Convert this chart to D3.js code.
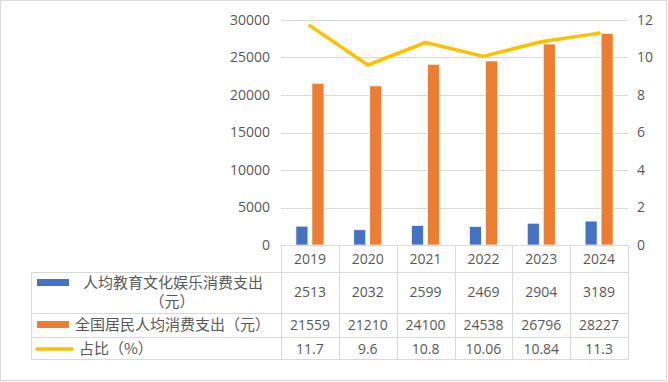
<!DOCTYPE html>
<html><head><meta charset="utf-8">
<script src="https://cdn.jsdelivr.net/npm/d3@7"></script>
<style>
html,body{margin:0;padding:0;background:#fff;}
svg{display:block;}
text{fill:#595959;}
</style></head>
<body>
<svg id="chart" width="668" height="382"></svg>
<script>
const years = ["2019","2020","2021","2022","2023","2024"];
const eduSpend = [2513, 2032, 2599, 2469, 2904, 3189];
const totalSpend = [21559, 21210, 24100, 24538, 26796, 28227];
const ratio = [11.7, 9.6, 10.8, 10.06, 10.84, 11.3];
const ratioLabels = ["11.7","9.6","10.8","10.06","10.84","11.3"];
const leftTicks = [0, 5000, 10000, 15000, 20000, 25000, 30000];
const rightTicks = [0, 2, 4, 6, 8, 10, 12];
const seriesNames = ["人均教育文化娱乐消费支出（元）", "全国居民人均消费支出（元）", "占比（%）"];
const seriesKeys = ["edu", "total"];
const colors = {edu: "#4472C4", total: "#ED7D31", ratio: "#FFC000"};

const svg = d3.select("#chart");
const numFont = "'Open Sans', 'Liberation Sans', sans-serif";
const cjkFont = "'Noto Sans CJK SC', sans-serif";
const gridColor = "#D9D9D9";

// outer border
svg.append("rect").attr("x", 0.5).attr("y", 0.5).attr("width", 666).attr("height", 380)
  .attr("fill", "#fff").attr("stroke", gridColor);

const plotL = 281, plotR = 628, plotT = 20, plotB = 245;
const x = d3.scaleBand().domain(years).range([plotL, plotR]).padding(0);
const yL = d3.scaleLinear().domain([0, 30000]).range([plotB, plotT]);
const yR = d3.scaleLinear().domain([0, 12]).range([plotB, plotT]);
const cw = x.bandwidth();
const x1 = d3.scaleBand().domain(seriesKeys).range([cw/2 - 14, cw/2 + 14]).paddingInner(0.25);

// gridlines
svg.append("g").selectAll("line").data(leftTicks.filter(d => d > 0)).join("line")
  .attr("x1", plotL).attr("x2", plotR)
  .attr("y1", d => Math.round(yL(d)) + 0.5).attr("y2", d => Math.round(yL(d)) + 0.5)
  .attr("stroke", gridColor).attr("stroke-width", 1);

// left axis
const gL = svg.append("g").attr("transform", `translate(${plotL - 11},0)`)
  .call(d3.axisLeft(yL).tickValues(leftTicks).tickFormat(d3.format("d")).tickSize(0).tickPadding(0));
gL.select(".domain").remove();
gL.selectAll("text").attr("font-family", numFont).attr("font-size", 14).attr("fill", "#595959");

// right axis
const gR = svg.append("g").attr("transform", `translate(${plotR + 9},0)`)
  .call(d3.axisRight(yR).tickValues(rightTicks).tickFormat(d3.format("d")).tickSize(0).tickPadding(0));
gR.select(".domain").remove();
gR.selectAll("text").attr("font-family", numFont).attr("font-size", 14).attr("fill", "#595959");

// bars
const barData = years.map((yr, i) => ({year: yr, values: [{key: "edu", v: eduSpend[i]}, {key: "total", v: totalSpend[i]}]}));
svg.append("g").selectAll("g").data(barData).join("g")
  .attr("transform", d => `translate(${x(d.year)},0)`)
  .selectAll("rect").data(d => d.values).join("rect")
  .attr("x", d => x1(d.key)).attr("width", x1.bandwidth())
  .attr("y", d => yL(d.v)).attr("height", d => yL(0) - yL(d.v))
  .attr("fill", d => colors[d.key]).attr("stroke", "#fff").attr("stroke-width", 0.7);

// line
const line = d3.line().x((d, i) => x(years[i]) + cw/2).y(d => yR(d));
svg.append("path").datum(ratio).attr("d", line).attr("fill", "none")
  .attr("stroke", colors.ratio).attr("stroke-width", 3.5)
  .attr("stroke-linejoin", "round").attr("stroke-linecap", "round");

// data table
const tableL = 31;
const rowY = [245, 271.5, 313, 337, 359];
const tg = svg.append("g").attr("stroke", gridColor).attr("stroke-width", 1).attr("fill", "none");
tg.append("line").attr("x1", plotL).attr("x2", plotR).attr("y1", rowY[0] + 0.5).attr("y2", rowY[0] + 0.5);
rowY.slice(1).forEach(yv => {
  tg.append("line").attr("x1", tableL).attr("x2", plotR).attr("y1", Math.round(yv) + 0.5).attr("y2", Math.round(yv) + 0.5);
});
tg.append("line").attr("x1", tableL + 0.5).attr("x2", tableL + 0.5).attr("y1", Math.round(rowY[1]) + 0.5).attr("y2", rowY[4] + 0.5);
years.forEach(yr => {
  const xv = Math.round(x(yr)) + 0.5;
  tg.append("line").attr("x1", xv).attr("x2", xv).attr("y1", rowY[0] + 0.5).attr("y2", rowY[4] + 0.5);
});
tg.append("line").attr("x1", plotR + 0.5).attr("x2", plotR + 0.5).attr("y1", rowY[0] + 0.5).attr("y2", rowY[4] + 0.5);

const rowCenters = [258.5, 292, 325, 348.5];
const tt = svg.append("g").attr("font-family", numFont).attr("font-size", 14).attr("text-anchor", "middle");
const rows = [years, eduSpend.map(String), totalSpend.map(String), ratioLabels];
rows.forEach((vals, r) => {
  tt.selectAll(null).data(vals).join("text")
    .attr("x", (d, i) => x(years[i]) + cw/2)
    .attr("y", rowCenters[r]).attr("dy", "0.36em")
    .attr("fill", "#595959")
    .text(d => d);
});

// legend column
const lg = svg.append("g").attr("font-family", cjkFont).attr("font-size", 15).attr("fill", "#595959");
lg.append("rect").attr("x", 37).attr("y", 279).attr("width", 32).attr("height", 7).attr("fill", colors.edu);
lg.append("text").attr("x", 173).attr("y", 282.5).attr("dy", "0.36em").attr("text-anchor", "middle")
  .text(seriesNames[0].slice(0, 12));
lg.append("text").attr("x", 172).attr("y", 302).attr("dy", "0.36em").attr("text-anchor", "middle")
  .text(seriesNames[0].slice(12));
lg.append("rect").attr("x", 37).attr("y", 321).attr("width", 32).attr("height", 7).attr("fill", colors.total);
lg.append("text").attr("x", 75).attr("y", 325).attr("dy", "0.36em").text(seriesNames[1]);
lg.append("line").attr("x1", 37).attr("x2", 72).attr("y1", 349).attr("y2", 349)
  .attr("stroke", colors.ratio).attr("stroke-width", 3.5).attr("stroke-linecap", "round");
lg.append("text").attr("x", 79).attr("y", 348.5).attr("dy", "0.36em").text(seriesNames[2]);
</script>
</body></html>
